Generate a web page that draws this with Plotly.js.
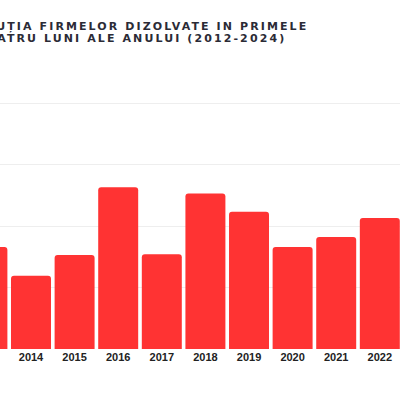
<!DOCTYPE html>
<html>
<head>
<meta charset="utf-8">
<script src="https://cdn.plot.ly/plotly-3.0.1.min.js"></script>
<style>
html,body{margin:0;padding:0;background:#fff;}
#chart{width:400px;height:400px;}
.annotation-text{letter-spacing:2.1px;}
</style>
</head>
<body>
<div id="chart"></div>
<script>
var years = ["2013","2014","2015","2016","2017","2018","2019","2020","2021","2022"];
var dissolved = [8300, 5950, 7650, 13150, 7700, 12650, 11150, 8300, 9100, 10650];
var yTicks = [0, 5000, 10000, 15000, 20000];
var titleLines = ["EVOLUȚIA FIRMELOR DIZOLVATE IN PRIMELE", "PATRU LUNI ALE ANULUI (2012-2024)"];

var trace = {
  type: "bar",
  x: years,
  y: dissolved,
  marker: {color: "#ff3333", cornerradius: 3},
  hoverinfo: "x+y"
};

var titleFont = {family: "'DejaVu Sans', sans-serif", size: 11, color: "#2b2b36", weight: "bold"};

var layout = {
  width: 400, height: 400,
  margin: {l: 0, r: 0, t: 90, b: 51, pad: 0},
  paper_bgcolor: "#ffffff",
  plot_bgcolor: "#ffffff",
  bargap: 0.083,
  showlegend: false,
  annotations: [
    {text: titleLines[0], xref: "paper", yref: "paper", x: 310/400, y: 1.245,
     xanchor: "right", yanchor: "middle", showarrow: false, font: titleFont},
    {text: titleLines[1], xref: "paper", yref: "paper", x: 288/400, y: 1.1996,
     xanchor: "right", yanchor: "middle", showarrow: false, font: titleFont}
  ],
  xaxis: {
    type: "category",
    range: [0.289, 9.463],
    showgrid: false, zeroline: false, showline: false,
    ticks: "",
    tickfont: {family: "'Liberation Sans', Arial, sans-serif", size: 11, color: "#222222", weight: "bold"},
    fixedrange: true
  },
  yaxis: {
    range: [0, 21057],
    tickvals: yTicks,
    showticklabels: false,
    showgrid: true, gridcolor: "#eeeeee", gridwidth: 1,
    zeroline: false, showline: false,
    fixedrange: true
  }
};

Plotly.newPlot("chart", [trace], layout, {displayModeBar: false, staticPlot: true});
</script>
</body>
</html>
